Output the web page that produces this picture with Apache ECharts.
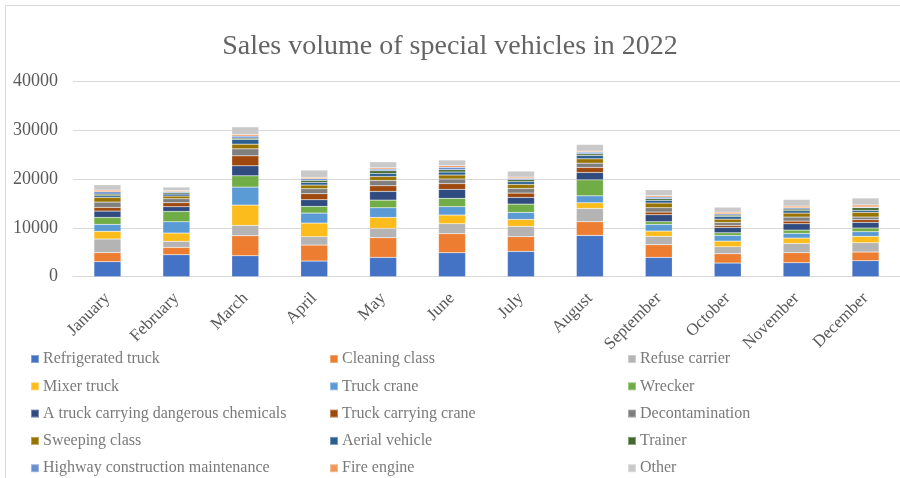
<!DOCTYPE html>
<html>
<head>
<meta charset="utf-8">
<script src="https://cdn.jsdelivr.net/npm/echarts@6/dist/echarts.min.js"></script>
<style>
html,body{margin:0;padding:0;background:#fff;}
#chart{width:900px;height:478px;}
</style>
</head>
<body>
<div id="chart"></div>
<script>
var months = ['January','February','March','April','May','June','July','August','September','October','November','December'];

var seriesNames = ['Refrigerated truck','Cleaning class','Refuse carrier','Mixer truck','Truck crane','Wrecker',
  'A truck carrying dangerous chemicals','Truck carrying crane','Decontamination','Sweeping class','Aerial vehicle','Trainer',
  'Highway construction maintenance','Fire engine','Other'];

var refrigeratedTruck = [3080,4510,4300,3210,3960,4920,5190,8470,3960,2800,2870,3280];
var cleaningClass     = [1850,1500,4100,3280,4030,3900,3010,2800,2600,1910,2050,1780];
var refuseCarrier     = [2800,1230,2120,1710,1910,2050,2120,2730,1710,1430,1910,1910];
var mixerTruck        = [1570,1710,4170,2800,2260,1780,1430,1160,1090,1160,1090,1300];
var truckCrane        = [1430,2320,3690,2050,1980,1710,1430,1430,1370,1160,960,960];
var wrecker           = [1430,2120,2320,1370,1570,1710,1710,3280,550,550,680,750];
var dangerousChem     = [1300,960,2050,1370,1780,1850,1370,1500,1430,1090,1300,1160];
var truckCarryingCrane= [750,820,2050,1230,1160,1160,890,1030,550,410,550,550];
var decontamination   = [1100,820,1430,1030,1090,960,960,890,890,615,820,550];
var sweepingClass     = [950,550,960,750,820,820,820,890,960,680,820,960];
var aerialVehicle     = [340,410,960,550,615,615,550,680,550,550,480,410];
var trainer           = [340,270,270,410,550,480,410,340,340,270,340,550];
var highwayMaint      = [480,205,410,340,340,480,270,340,340,270,270,140];
var fireEngine        = [340,205,340,270,270,340,270,205,270,340,340,410];
var other             = [1100,750,1570,1500,1230,1160,1230,1370,1230,1030,1370,1430];

var yTicks = [0,10000,20000,30000,40000];

var seriesData = [refrigeratedTruck,cleaningClass,refuseCarrier,mixerTruck,truckCrane,wrecker,
  dangerousChem,truckCarryingCrane,decontamination,sweepingClass,aerialVehicle,trainer,highwayMaint,fireEngine,other];

var colors = ['#4472C4','#ED7D31','#B4B4B4','#FBBC1C','#5B9BD5','#70AD47','#2F4B80','#9E480E','#7F7F7F',
  '#997300','#2A5E91','#43682B','#698ED0','#F1975A','#C9C9C9'];

var serif = '"Liberation Serif","Times New Roman",serif';
var chart = echarts.init(document.getElementById('chart'), null, {renderer:'canvas'});

var colLefts = [30, 329, 627];
var rowTops = [351, 378.3, 405.6, 432.9, 460.2];
var legends = seriesNames.map(function(n,i){
  return {
    left: colLefts[i % 3], top: rowTops[Math.floor(i / 3)], padding:0,
    icon:'rect', itemWidth:8, itemHeight:8,
    data:[n],
    textStyle:{fontFamily:serif, fontSize:16, color:'#7a7a7a', lineHeight:16, padding:[0,0,0,-1]},
    selectedMode:false
  };
});

var option = {
  animation:false,
  color: colors,
  graphic:[{type:'rect', shape:{x:5.5,y:5.5,width:1000,height:1000}, style:{fill:'none', stroke:'#d9d9d9', lineWidth:1}, silent:true}],
  title:{
    text:'Sales volume of special vehicles in 2022',
    left:'center', top:28,
    textStyle:{fontFamily:serif, fontSize:28, fontWeight:'normal', color:'#646464'}
  },
  legend: legends,
  grid:{left:73, top:81.7, width:830, height:195, containLabel:false},
  xAxis:{
    type:'category', data:months,
    axisLine:{lineStyle:{color:'#d9d9d9'}},
    axisTick:{show:false},
    axisLabel:{rotate:45, fontFamily:serif, fontSize:17, color:'#595959', margin:19, interval:0}
  },
  yAxis:{
    type:'value', min:yTicks[0], max:yTicks[yTicks.length-1], interval:yTicks[1]-yTicks[0],
    axisLine:{show:false}, axisTick:{show:false},
    splitLine:{lineStyle:{color:'#d9d9d9', width:1}},
    axisLabel:{fontFamily:serif, fontSize:18, color:'#595959', margin:15, formatter:function(v){return String(v);}}
  },
  series: seriesNames.map(function(n,i){
    return {name:n, type:'bar', stack:'total', barWidth:27, data:seriesData[i],
      itemStyle:{borderColor:'rgba(255,255,255,0.35)', borderWidth:0.5}};
  })
};
chart.setOption(option);
</script>
</body>
</html>
